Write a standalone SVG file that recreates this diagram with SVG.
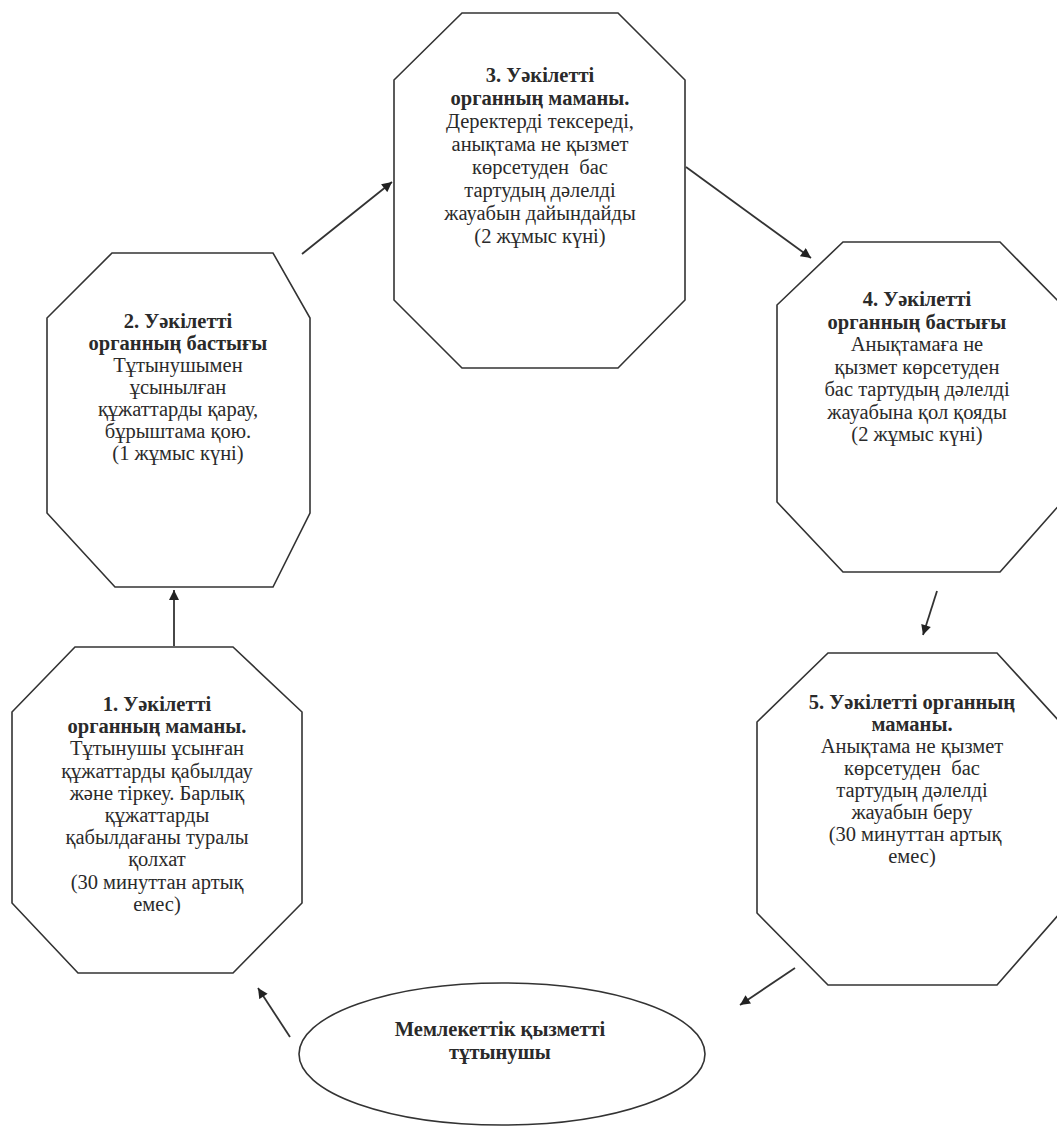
<svg xmlns="http://www.w3.org/2000/svg" width="1057" height="1129" viewBox="0 0 1057 1129">
<defs>
<style>
.shape{fill:#fff;stroke:#333;stroke-width:1.6}
.t{font-family:"Liberation Serif","Times New Roman",serif;font-size:20.5px;fill:#2a2a2a;text-anchor:middle}
.b{font-weight:bold}
.conn{stroke:#333;stroke-width:1.8;fill:none;marker-end:url(#ah)}
</style>
<marker id="ah" viewBox="0 0 10 10" refX="10" refY="5" markerWidth="11" markerHeight="10" markerUnits="userSpaceOnUse" orient="auto">
<path d="M0,0 L10,5 L0,10 z" fill="#222"/>
</marker>
</defs>
<rect width="1057" height="1129" fill="#fff"/>
<g id="connectors">
<line class="conn" x1="174" y1="646" x2="174" y2="590"/>
<line class="conn" x1="302" y1="254" x2="392" y2="182"/>
<line class="conn" x1="686" y1="167" x2="811" y2="258"/>
<line class="conn" x1="937" y1="591" x2="923" y2="635"/>
<line class="conn" x1="795" y1="968" x2="740" y2="1005"/>
<line class="conn" x1="290" y1="1037" x2="258" y2="988"/>
</g>
<g id="node3">
<polygon class="shape" points="462,13 618,13 685,80 685,300 618,368 462,368 394,300 394,80"/>
<text class="t" x="540" y="82"><tspan class="b" x="540">3. Уәкілетті</tspan><tspan class="b" x="540" dy="23">органның маманы.</tspan><tspan x="540" dy="23">Деректерді тексереді,</tspan><tspan x="540" dy="23">анықтама не қызмет</tspan><tspan x="540" dy="23">көрсетуден &#160;бас</tspan><tspan x="540" dy="23">тартудың дәлелді</tspan><tspan x="540" dy="23">жауабын дайындайды</tspan><tspan x="540" dy="23">(2 жұмыс күні)</tspan></text>
</g>
<g id="node2">
<polygon class="shape" points="112,253 273,253 310,318 310,513 273,587 115,587 47,513 47,318"/>
<text class="t" x="178" y="328"><tspan class="b" x="178">2. Уәкілетті</tspan><tspan class="b" x="178" dy="22">органның бастығы</tspan><tspan x="178" dy="22">Тұтынушымен</tspan><tspan x="178" dy="22">ұсынылған</tspan><tspan x="178" dy="22">құжаттарды қарау,</tspan><tspan x="178" dy="22">бұрыштама қою.</tspan><tspan x="178" dy="22">(1 жұмыс күні)</tspan></text>
</g>
<g id="node4">
<polygon class="shape" points="843,242 1000,242 1062,305 1062,502 1000,572 843,572 777,502 777,305"/>
<text class="t" x="917" y="306"><tspan class="b" x="917">4. Уәкілетті</tspan><tspan class="b" x="917" dy="22.5">органның бастығы</tspan><tspan x="917" dy="22.5">Анықтамаға не</tspan><tspan x="917" dy="22.5">қызмет көрсетуден</tspan><tspan x="917" dy="22.5">бас тартудың дәлелді</tspan><tspan x="917" dy="22.5">жауабына қол қояды</tspan><tspan x="917" dy="22.5">(2 жұмыс күні)</tspan></text>
</g>
<g id="node1">
<polygon class="shape" points="75,647 233,647 302,712 302,903 233,973 78,973 12,903 12,712"/>
<text class="t" x="157" y="711"><tspan class="b" x="157">1. Уәкілетті</tspan><tspan class="b" x="157" dy="22.2">органның маманы.</tspan><tspan x="157" dy="22.2">Тұтынушы ұсынған</tspan><tspan x="157" dy="22.2">құжаттарды қабылдау</tspan><tspan x="157" dy="22.2">және тіркеу. Барлық</tspan><tspan x="157" dy="22.2">құжаттарды</tspan><tspan x="157" dy="22.2">қабылдағаны туралы</tspan><tspan x="157" dy="22.2">қолхат</tspan><tspan x="157" dy="22.2">(30 минуттан артық</tspan><tspan x="157" dy="22.2">емес)</tspan></text>
</g>
<g id="node5">
<polygon class="shape" points="828,653 997,653 1060,722 1060,913 997,985 828,985 757,913 757,722"/>
<text class="t" x="912" y="709"><tspan class="b" x="912">5. Уәкілетті органның</tspan><tspan class="b" x="912" dy="22">маманы.</tspan><tspan x="912" dy="22">Анықтама не қызмет</tspan><tspan x="912" dy="22">көрсетуден &#160;бас</tspan><tspan x="912" dy="22">тартудың дәлелді</tspan><tspan x="912" dy="22">жауабын беру</tspan><tspan x="915" dy="22">(30 минуттан артық</tspan><tspan x="912" dy="22">емес)</tspan></text>
</g>
<g id="consumer">
<ellipse class="shape" cx="502" cy="1054" rx="203" ry="71"/>
<text class="t b" x="500" y="1036"><tspan x="500">Мемлекеттік қызметті</tspan><tspan x="500" dy="23">тұтынушы</tspan></text>
</g>
</svg>
